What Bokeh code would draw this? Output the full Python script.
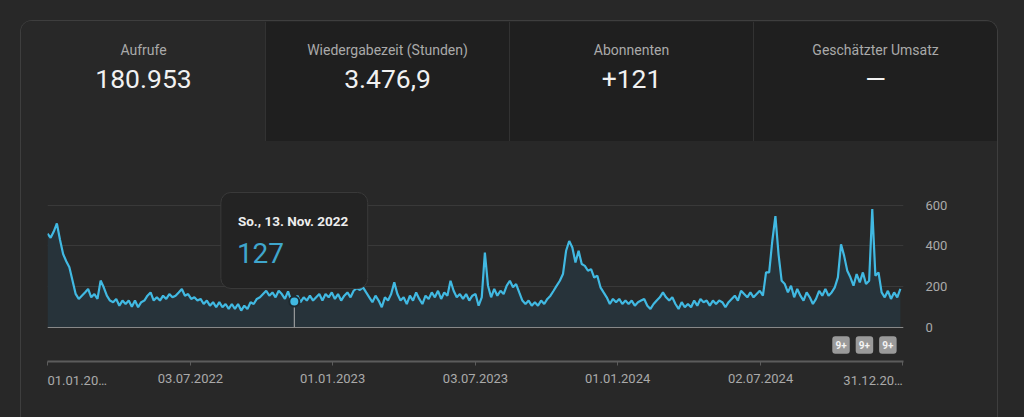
import numpy as np
import pandas as pd
from bokeh.plotting import figure
from bokeh.layouts import column
from bokeh.models import Range1d, FixedTicker, Span, Label
from bokeh.core.properties import value
from bokeh.embed import file_html
from bokeh.resources import INLINE

# ---------------- data ----------------
metric_names = ["Aufrufe", "Wiedergabezeit (Stunden)", "Abonnenten", "Geschätzter Umsatz"]
metric_values = ["180.953", "3.476,9", "+121", "—"]

start_date = "2022-01-01"
sample_step = "4D"
views = [
    460, 440, 470, 510, 430, 360, 325, 295, 230, 165, 140,
    156, 172, 189, 148, 164, 140, 230, 197, 156, 132,
    124, 140, 107, 132, 115, 132, 102, 132, 99, 124,
    132, 156, 172, 132, 148, 132, 156, 140, 164, 148,
    156, 172, 189, 156, 164, 140, 148, 132, 140, 115,
    132, 107, 124, 99, 124, 99, 115, 91, 115, 91,
    115, 83, 107, 91, 124, 115, 140,
    148, 164, 180, 156, 172, 148, 180, 164, 140, 177,
    132, 127, 156, 124, 148, 132, 156, 132, 148, 164,
    132, 164, 148, 172, 140, 164, 132, 156, 172, 148,
    180, 193, 184, 197, 172, 148, 124, 156, 132, 99,
    148, 132, 164, 221, 164, 132, 148, 115, 156, 132,
    172, 140, 115, 156, 140, 172, 148, 180, 140, 172,
    156, 229, 180, 148, 164, 140, 164, 132, 156,
    164, 107, 148, 367, 205, 148, 189, 156, 180, 164,
    205, 229, 197, 213, 172, 132, 115, 132, 107, 124,
    107, 132, 115, 140, 156, 180, 205, 229, 262, 376,
    424, 392, 319, 376, 311, 302, 278, 286, 245, 254,
    197, 172, 148, 115, 140, 124, 140, 115, 132, 115,
    132, 107, 124, 132, 140, 107, 91, 115, 132, 148,
    172, 148, 132, 148, 115, 91, 124, 99,
    115, 99, 132, 107, 140, 124, 132, 107, 132, 115,
    132, 124, 99, 124, 140, 156, 132, 180, 164, 148,
    172, 148, 164, 180, 156, 270, 270, 424, 546, 359,
    229, 213, 172, 205, 148, 189, 156, 132, 172, 148,
    115, 140, 180, 156, 189, 156, 172, 197, 246, 408,
    351, 278, 246, 205, 262, 221, 270, 213, 229, 580,
    254, 270, 172, 148, 180, 140, 172, 148, 189,
]

tick_dates = ["2022-01-01", "2022-07-03", "2023-01-01", "2023-07-03",
              "2024-01-01", "2024-07-02", "2024-12-31"]
tick_labels = ["01.01.20…", "03.07.2022", "01.01.2023", "03.07.2023",
               "01.01.2024", "02.07.2024", "31.12.20…"]
y_ticks = [0, 200, 400, 600]

hover_date = "2022-11-13"
hover_label = "So., 13. Nov. 2022"
hover_value = 127

badge_dates = ["2024-10-13", "2024-11-12", "2024-12-12"]
badge_labels = ["9+", "9+", "9+"]

# ---------------- styles ----------------
BG = "#282828"
TAB_DARK = "#1f1f1f"
CARD_BORDER = "#3e3e3e"
GRID = "#393939"
LINE = "#41b9e2"
AREA = "#27333a"
MUTED = "#aaaaaa"
FONT = "Roboto"

dates = pd.date_range(start_date, periods=len(views), freq=sample_step)
DAY = pd.Timedelta(days=1)
to_ms = lambda d: pd.Timestamp(d).value / 1e6

# ---------------- metric tabs ----------------
fa = figure(width=976, height=120, x_range=Range1d(0, len(metric_names)),
            y_range=Range1d(120, 0), x_axis_location=None, y_axis_location=None,
            toolbar_location=None, output_backend="svg", min_border=0,
            background_fill_color=BG, border_fill_color=BG, outline_line_color=None)
fa.frame_align = False
fa.grid.visible = False
idx = np.arange(len(metric_names))
tab_fill = [BG] + [TAB_DARK] * (len(metric_names) - 1)
fa.quad(left=idx, right=idx + 1, top=0, bottom=120, fill_color=tab_fill, line_color=None)
fa.segment(x0=idx[1:], y0=0, x1=idx[1:], y1=120, line_color="#323232", line_width=1)
fa.text(x=idx + 0.5, y=28, text=metric_names, text_font=value(FONT), text_font_size="14px",
        text_color=MUTED, text_align="center", text_baseline="middle")
fa.text(x=idx + 0.5, y=57, text=metric_values, text_font=value(FONT), text_font_size="26.5px",
        text_color="#f1f1f1", text_align="center", text_baseline="middle")

# ---------------- chart ----------------
fb = figure(width=976, height=276, x_axis_type="datetime", y_axis_location="right",
            x_range=Range1d(pd.Timestamp("2022-01-01"), pd.Timestamp("2025-01-01")),
            y_range=Range1d(-166.7, 867.6),
            min_border_left=26, min_border_right=94, min_border_top=9, min_border_bottom=56,
            toolbar_location=None, output_backend="svg",
            background_fill_color=BG, border_fill_color=BG, outline_line_color=None)
fb.frame_align = False
fb.xgrid.visible = False
fb.ygrid.ticker = FixedTicker(ticks=y_ticks)
fb.ygrid.grid_line_color = GRID

fb.varea(x=dates, y1=0, y2=views, fill_color=AREA)
fb.line(x=dates, y=views, line_color=LINE, line_width=2.2)
fb.add_layout(Span(location=0, dimension="width", line_color="#8a8a8a", line_width=1))

# y axis (right)
fb.yaxis.ticker = FixedTicker(ticks=y_ticks)
fb.yaxis.axis_line_color = None
fb.yaxis.major_tick_line_color = None
fb.yaxis.minor_tick_line_color = None
fb.yaxis.major_tick_out = 0
fb.yaxis.major_tick_in = 0
fb.yaxis.major_label_standoff = 22
fb.yaxis.major_label_text_color = MUTED
fb.yaxis.major_label_text_font = FONT
fb.yaxis.major_label_text_font_size = "13px"

# x axis (below)
tick_ms = [to_ms(d) for d in tick_dates]
fb.xaxis.ticker = FixedTicker(ticks=tick_ms)
overrides = {t: l for t, l in zip(tick_ms, tick_labels)}
overrides[tick_ms[0]] = ""
overrides[tick_ms[-1]] = ""
fb.xaxis.major_label_overrides = overrides
fb.xaxis.axis_line_color = "#5c5c5c"
fb.xaxis.axis_line_width = 2
fb.xaxis.major_tick_line_color = "#5c5c5c"
fb.xaxis.major_tick_out = 4
fb.xaxis.major_tick_in = 0
fb.xaxis.minor_tick_line_color = None
fb.xaxis.major_label_standoff = 8
fb.xaxis.major_label_text_color = MUTED
fb.xaxis.major_label_text_font = FONT
fb.xaxis.major_label_text_font_size = "13px"
for t, l, align in [(tick_ms[0], tick_labels[0], "left"), (tick_ms[-1], tick_labels[-1], "right")]:
    fb.add_layout(Label(x=t, y=-259.8, text=l, text_align=align, text_baseline="middle",
                        text_color=MUTED, text_font=FONT, text_font_size="13px"), "below")

# hover marker + tooltip
hd = pd.Timestamp(hover_date)
fb.segment(x0=[hd], y0=[0], x1=[hd], y1=[hover_value], line_color="#b0b0b0", line_width=1)
fb.scatter(x=[hd], y=[hover_value], size=10, fill_color=LINE, line_color="#1e2a30", line_width=2)
fb.quad(left=[hd - 94 * DAY], right=[hd + 94 * DAY], top=[661.8], bottom=[191.2],
        fill_color="#232323", line_color="#3a3a3a", line_width=1, border_radius=10)
fb.text(x=[hd - 94 * DAY], y=[519.6], text=[hover_label], x_offset=17,
        text_font=value(FONT), text_font_size="13.5px", text_font_style="bold",
        text_color="#eeeeee", text_align="left", text_baseline="middle")
fb.text(x=[hd - 94 * DAY], y=[367.6], text=[str(hover_value)], x_offset=16,
        text_font=value(FONT), text_font_size="28px",
        text_color="#3fa6cc", text_align="left", text_baseline="middle")

# badges
bd = [pd.Timestamp(d) for d in badge_dates]
fb.quad(left=[d - 11.2 * DAY for d in bd], right=[d + 11.2 * DAY for d in bd],
        top=-42.9, bottom=-128.7, fill_color="#9a9a9a", line_color=None, border_radius=3)
fb.text(x=bd, y=-85.8, text=badge_labels, text_font=value(FONT), text_font_size="10px",
        text_font_style="bold", text_color="#f4f4f4", text_align="center", text_baseline="middle")

layout = column(fa, fb, margin=(20, 0, 0, 20),
                styles={"border": "1px solid " + CARD_BORDER, "border-bottom": "none",
                        "border-radius": "12px 12px 0 0", "overflow": "hidden",
                        "background-color": BG})

open("out.html", "w").write(
    file_html(layout, INLINE, title="Kanalanalyse").replace(
        "<head>", "<head><style>html,body{background:#282828}</style>", 1))
